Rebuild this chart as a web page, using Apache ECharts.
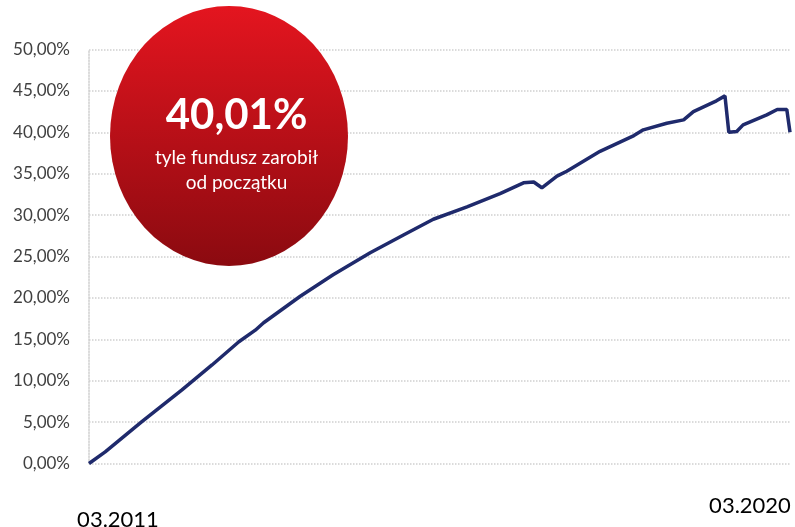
<!DOCTYPE html>
<html>
<head>
<meta charset="utf-8">
<script src="https://cdn.jsdelivr.net/npm/echarts@6/dist/echarts.min.js"></script>
<style>
html,body{margin:0;padding:0;background:#fff;}
#chart{width:795px;height:527px;}
</style>
</head>
<body>
<div id="chart"></div>
<script>
var dates = ['2011-03-01','2011-05-16','2011-11-04','2012-05-10','2012-09-28','2013-02-01','2013-04-19','2013-05-28','2013-11-16','2014-04-19','2014-10-10','2015-03-15','2015-08-02','2016-01-07','2016-06-10','2016-09-28','2016-11-15','2016-12-23','2017-03-04','2017-04-19','2017-09-22','2018-02-28','2018-04-13','2018-08-01','2018-10-19','2018-12-04','2019-03-22','2019-05-01','2019-05-10','2019-05-19','2019-06-25','2019-07-25','2019-11-13','2020-01-01','2020-02-15','2020-03-01'];
var values = [0,1.4,5.05,8.9,11.9,14.7,16.1,17.0,20.2,22.8,25.45,27.6,29.5,31.0,32.6,33.9,34.0,33.3,34.7,35.3,37.7,39.6,40.3,41.1,41.5,42.5,43.8,44.4,44.2,40.0,40.1,40.9,42.1,42.75,42.75,40.01];
var xTickLabels = ['03.2011','03.2020'];
var bubbleTitle = '40,01%';
var bubbleLines = ['tyle fundusz zarobił','od początku'];

var chart = echarts.init(document.getElementById('chart'));
var seriesData = dates.map(function(d,i){return [d, values[i]];});
chart.setOption({
  animation:false,
  grid:{left:89,right:5,top:49.5,bottom:63.5},
  xAxis:{type:'time',min:dates[0],max:dates[dates.length-1],
    axisLine:{show:false},axisTick:{show:false},axisLabel:{show:false},splitLine:{show:false}},
  yAxis:{type:'value',min:0,max:50,interval:5,
    axisLine:{show:true,lineStyle:{color:'#D0D0D0',type:'dotted',width:1.5}},
    axisTick:{show:false},
    splitLine:{lineStyle:{color:'#D0D0D0',type:'dotted',width:1.5}},
    axisLabel:{margin:19,color:'#404040',fontFamily:'Lato',fontSize:17,
      formatter:function(v){return v.toFixed(2).replace('.',',')+'%';}}},
  series:[{type:'line',data:seriesData,showSymbol:false,
    lineStyle:{color:'#1F2A6C',width:3.5},z:3}],
  graphic:[
    {type:'circle',shape:{cx:0,cy:0,r:119},x:229,y:136,scaleY:130/119,z:10,
      style:{fill:new echarts.graphic.LinearGradient(0,0,0,1,[{offset:0,color:'#E4151F'},{offset:1,color:'#8B0A10'}])}},
    {type:'text',x:236.5,y:115,z:11,style:{text:bubbleTitle,fill:'#fff',font:'bold 42px Lato',textAlign:'center',textVerticalAlign:'middle'}},
    {type:'text',x:236.5,y:158,z:11,style:{text:bubbleLines[0],fill:'#fff',font:'19px Lato',textAlign:'center',textVerticalAlign:'middle'}},
    {type:'text',x:236.5,y:183,z:11,style:{text:bubbleLines[1],fill:'#fff',font:'19px Lato',textAlign:'center',textVerticalAlign:'middle'}},
    {type:'text',x:118,y:520,z:11,style:{text:xTickLabels[0],fill:'#000',font:'22px Lato',textAlign:'center',textVerticalAlign:'middle'}},
    {type:'text',x:750,y:506,z:11,style:{text:xTickLabels[1],fill:'#000',font:'22px Lato',textAlign:'center',textVerticalAlign:'middle'}}
  ]
});
</script>
</body>
</html>
